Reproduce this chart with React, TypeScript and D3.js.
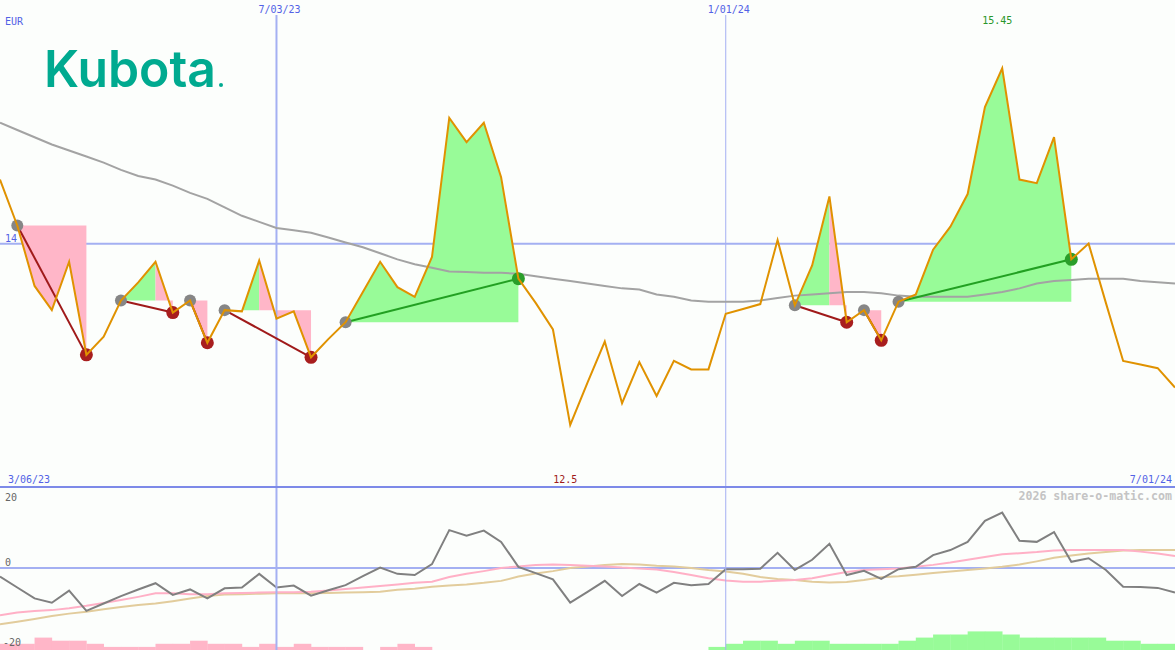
import React from 'react';
import * as d3 from 'd3';

// ---------- DATA ----------
const startDate = new Date(Date.UTC(2023, 2, 13));
const endDate = new Date(Date.UTC(2024, 6, 1));

const prices = [14.53,14.15,13.65,13.45,13.85,13.08,13.23,13.53,13.68,13.85,13.43,13.53,13.18,13.45,13.44,13.86,13.38,13.44,13.06,13.21,13.35,13.60,13.85,13.64,13.56,13.89,15.04,14.84,15.00,14.55,13.71,13.51,13.29,12.50,12.85,13.19,12.68,13.02,12.74,13.03,12.96,12.96,13.42,13.46,13.50,14.03,13.49,13.82,14.39,13.35,13.45,13.20,13.52,13.58,13.95,14.14,14.41,15.13,15.45,14.53,14.50,14.88,13.87,14.00,13.51,13.03,13.00,12.97,12.81];

const movingAvg = [15.00,14.94,14.88,14.82,14.77,14.72,14.67,14.61,14.56,14.53,14.48,14.42,14.37,14.30,14.23,14.18,14.13,14.11,14.09,14.05,14.01,13.97,13.92,13.87,13.83,13.80,13.77,13.765,13.76,13.76,13.75,13.73,13.71,13.69,13.67,13.65,13.63,13.62,13.58,13.56,13.53,13.52,13.52,13.52,13.53,13.55,13.57,13.58,13.59,13.60,13.60,13.59,13.57,13.56,13.56,13.56,13.56,13.58,13.60,13.63,13.67,13.69,13.70,13.71,13.71,13.71,13.69,13.68,13.67];

const momentum = [-2.2,-5.0,-7.8,-8.9,-5.8,-11.0,-9.1,-7.2,-5.5,-3.9,-6.9,-5.5,-7.8,-5.2,-5.0,-1.5,-5.0,-4.5,-7.1,-5.7,-4.4,-2.1,0.1,-1.5,-1.8,1.0,9.7,8.3,9.6,6.7,0.3,-1.3,-2.9,-8.9,-6.1,-3.3,-7.2,-4.1,-6.3,-3.8,-4.4,-4.1,-0.3,-0.3,-0.2,3.9,-0.5,2.1,6.2,-1.8,-0.7,-2.8,-0.3,0.3,3.3,4.6,6.7,12.1,14.2,7.0,6.7,9.2,1.6,2.5,-0.5,-4.8,-4.9,-5.1,-6.3];

const signalFast = [-12.1,-11.4,-11.0,-10.8,-10.3,-9.7,-9.0,-8.2,-7.4,-6.5,-6.5,-6.7,-6.7,-6.5,-6.4,-6.3,-6.2,-6.2,-6.1,-5.8,-5.4,-5.0,-4.6,-4.2,-3.8,-3.5,-2.3,-1.5,-0.8,0,0.4,0.8,0.9,0.8,0.6,0.4,0.1,-0.1,-0.4,-1.0,-1.8,-2.6,-3.2,-3.5,-3.5,-3.3,-3.1,-2.6,-1.8,-1.0,-0.5,-0.3,-0.1,0.3,0.8,1.4,2.1,2.8,3.5,3.8,4.1,4.5,4.6,4.6,4.6,4.6,4.2,3.7,3.1];

const signalSlow = [-14.4,-13.8,-13.1,-12.3,-11.7,-11.2,-10.6,-10.0,-9.5,-9.1,-8.5,-7.8,-7.2,-6.8,-6.7,-6.6,-6.5,-6.5,-6.5,-6.4,-6.3,-6.2,-6.1,-5.6,-5.3,-4.8,-4.5,-4.2,-3.8,-3.3,-2.2,-1.4,-0.8,0,0.4,0.8,1.0,0.9,0.6,0.4,0,-0.5,-0.9,-1.5,-2.3,-2.8,-3.1,-3.5,-3.7,-3.6,-3.1,-2.4,-2.1,-1.7,-1.3,-0.9,-0.5,-0.1,0.3,0.9,1.7,2.6,3.2,3.7,4.1,4.5,4.6,4.6,4.6];

const histogram = [-2,-2,-4,-3,-3,-2,-1,-1,-1,-2,-2,-3,-2,-2,-1,-2,-1,-2,-1,-1,-1,0,-1,-2,-1,0,0,0,0,0,0,0,0,0,0,0,0,0,0,0,0,1,2,3,3,2,3,3,2,2,2,2,3,4,5,5,6,6,5,4,4,4,4,4,3,3,2,2];

const trendStarts = [1, 7, 11, 13, 20, 46, 50, 52];
const trendEnds = [5, 10, 12, 18, 30, 49, 51, 62];

const gridDates = [new Date(Date.UTC(2023, 6, 3)), new Date(Date.UTC(2024, 0, 1))];
const gridDateLabels = ['7/03/23', '1/01/24'];
const gridDateWidths = [2, 1];
const priceGrid = [14];
const priceGridLabels = ['14'];
const bottomTicks = [20, 0, -20];
const bottomTickLabels = ['20', '0', '-20'];
const firstDateLabel = '3/06/23';
const lastDateLabel = '7/01/24';
const currency = 'EUR';
const credit = '2026 share-o-matic.com';
const brand = 'Kubota';

// ---------- STYLE ----------
const W = 1175, H = 650;
const BG = '#fcfefc';
const GRID = '#a4b0f2';
const DIVIDER = '#7d8ae8';
const LABEL = '#5262e6';
const PRICE = '#e09200';
const MA = '#a3a3a3';
const PINK = '#ffb6c8';
const GREEN = '#98fb98';
const MONO = '"DejaVu Sans Mono", monospace';

export default function App() {
  const dates = prices.map((_, i) => d3.utcDay.offset(startDate, 7 * i));
  const x = d3.scaleUtc().domain([startDate, endDate]).range([0, W]);
  const y = d3.scaleLinear().domain([12.5, 15.45]).range([425, 68.3]);
  const yB = d3.scaleLinear().domain([-20, 20]).range([646, 490]);
  const yBar = d3.scaleLinear().domain([0, 6]).range([650, 631.4]);

  const priceLine = d3.line<number>().x((_, i) => x(dates[i])).y(d => y(d));
  const bLine = d3.line<number>().x((_, i) => x(dates[i])).y(d => yB(d));

  const maxI = prices.indexOf(d3.max(prices)!);
  const minI = prices.indexOf(d3.min(prices)!);

  // one path per trend and colour, so the pieces join without seams
  const fills: { d: string; c: string }[] = [];
  trendStarts.forEach((s, k) => {
    const e = trendEnds[k];
    const base = prices[s];
    let dGreen = '';
    let dPink = '';
    for (let i = s; i < e; i++) {
      const pts: [number, number][] = [
        [x(dates[i]), y(base)],
        [x(dates[i]), y(prices[i])],
        [x(dates[i + 1]), y(prices[i + 1])],
        [x(dates[i + 1]), y(base)],
      ];
      const seg = d3.line()(pts) + 'Z';
      if (prices[i + 1] >= base) dGreen += seg; else dPink += seg;
    }
    if (dGreen) fills.push({ d: dGreen, c: GREEN });
    if (dPink) fills.push({ d: dPink, c: PINK });
  });

  return (
    <svg width={W} height={H} style={{ position: 'fixed', left: 0, top: 0, background: BG }}>
      <rect x={0} y={0} width={W} height={H} fill={BG} />
      {/* horizontal grid main */}
      {priceGrid.map((p, i) => (
        <line key={'hg' + i} x1={0} x2={W} y1={y(p)} y2={y(p)} stroke={GRID} strokeWidth={2} />
      ))}
      {/* bottom panel */}
      <line x1={0} x2={W} y1={yB(0)} y2={yB(0)} stroke={GRID} strokeWidth={2} />
      {histogram.map((v, i) => v === 0 ? null : (
        <rect key={'hb' + i} x={x(dates[i])} width={x(dates[i + 1]) - x(dates[i]) + 0.3}
          y={yBar(Math.abs(v))} height={650 - yBar(Math.abs(v))} fill={v < 0 ? PINK : GREEN} />
      ))}
      <path d={bLine(signalSlow)!} fill="none" stroke="#e2cc9c" strokeWidth={2} />
      <path d={bLine(signalFast)!} fill="none" stroke="#ffb0c6" strokeWidth={2} />
      <path d={bLine(momentum)!} fill="none" stroke="#808080" strokeWidth={2} />
      {bottomTicks.map((t, i) => (
        <text key={'bt' + i} x={t < 0 ? 3 : 5} y={t === 20 ? yB(t) + 11 : t === 0 ? yB(t) - 2 : yB(t)}
          fontFamily={MONO} fontSize={10} fill="#666">{bottomTickLabels[i]}</text>
      ))}
      <text x={1172} y={500} textAnchor="end" fontFamily={MONO} fontSize={11.6} fontWeight="bold" fill="#c4c4c4">{credit}</text>

      {/* trend fills */}
      {fills.map((f, i) => <path key={'f' + i} d={f.d} fill={f.c} />)}

      {/* vertical grid */}
      {gridDates.map((d, i) => (
        <g key={'vg' + i}>
          <line x1={x(d)} x2={x(d)} y1={15} y2={H} stroke={GRID} strokeWidth={gridDateWidths[i]} />
          <text x={x(d) + 3} y={13} textAnchor="middle" fontFamily={MONO} fontSize={10} fill={LABEL}>{gridDateLabels[i]}</text>
        </g>
      ))}
      <line x1={0} x2={W} y1={487} y2={487} stroke={DIVIDER} strokeWidth={2} />

      {/* moving average */}
      <path d={priceLine(movingAvg)!} fill="none" stroke={MA} strokeWidth={2} />

      {/* trend lines and markers */}
      {trendStarts.map((s, k) => {
        const e = trendEnds[k];
        const up = prices[e] > prices[s];
        return (
          <g key={'t' + k}>
            <line x1={x(dates[s])} y1={y(prices[s])} x2={x(dates[e])} y2={y(prices[e])}
              stroke={up ? '#22a022' : '#a01a1a'} strokeWidth={2} />
            <circle cx={x(dates[s])} cy={y(prices[s])} r={6} fill="#868686" />
            <circle cx={x(dates[e])} cy={y(prices[e])} r={6.5} fill={up ? '#2a9e2a' : '#a81e1e'} />
          </g>
        );
      })}

      {/* price */}
      <path d={priceLine(prices)!} fill="none" stroke={PRICE} strokeWidth={2} />

      {/* labels */}
      <text x={5} y={25} fontFamily={MONO} fontSize={10} fill={LABEL}>{currency}</text>
      {priceGrid.map((p, i) => (
        <text key={'pl' + i} x={5} y={y(p) - 2} fontFamily={MONO} fontSize={10} fill={LABEL}>{priceGridLabels[i]}</text>
      ))}
      <text x={x(dates[maxI]) - 5} y={24} textAnchor="middle" fontFamily={MONO} fontSize={10} fill="#2a962a">{d3.format('.2f')(prices[maxI])}</text>
      <text x={x(dates[minI]) - 5} y={483} textAnchor="middle" fontFamily={MONO} fontSize={10} fill="#a01a1a">{String(prices[minI])}</text>
      <text x={8} y={483} fontFamily={MONO} fontSize={10} fill={LABEL}>{firstDateLabel}</text>
      <text x={1172} y={483} textAnchor="end" fontFamily={MONO} fontSize={10} fill={LABEL}>{lastDateLabel}</text>

      {/* logo */}
      <text x={44} y={87} fontFamily="Inter, sans-serif" fontSize={51} fontWeight={600} fill="#00aa90"
        textLength={172} lengthAdjust="spacingAndGlyphs">{brand}</text>
      <circle cx={221} cy={85} r={2} fill="#00aa90" />
    </svg>
  );
}
